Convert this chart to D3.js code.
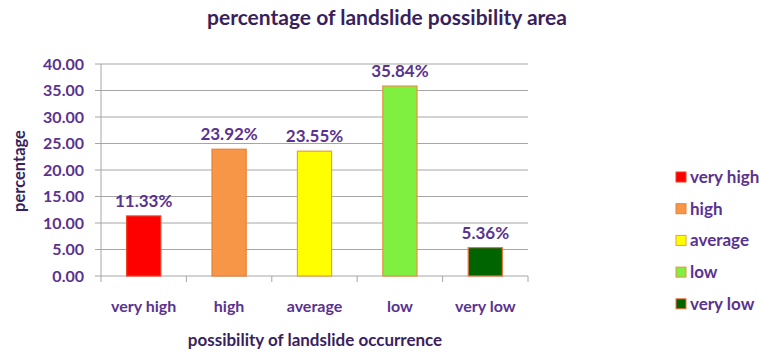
<!DOCTYPE html>
<html>
<head>
<meta charset="utf-8">
<script src="https://cdn.jsdelivr.net/npm/d3@7"></script>
<style>
  html, body { margin: 0; padding: 0; background: #fff; }
  svg { display: block; font-family: Lato, "Open Sans", sans-serif; font-weight: bold; }
</style>
</head>
<body>
<svg id="chart" width="759" height="352"></svg>
<script>
// Landslide possibility classes and share of area (%)
const categories = ["very high", "high", "average", "low", "very low"];
const values = [11.33, 23.92, 23.55, 35.84, 5.36];
const yTicks = [0, 5, 10, 15, 20, 25, 30, 35, 40];
const fills = ["#ff0000", "#f79646", "#ffff00", "#80f040", "#006400"];
const strokes = ["#f04020", "#e8803a", "#e8a040", "#e89040", "#f07040"];

const textColor = "#5a3290";
const titleColor = "#3a1f5e";

const svg = d3.select("#chart");
const m = { left: 101, right: 528, top: 64, bottom: 276 };

const x = d3.scaleBand().domain(categories).range([m.left, m.right]).paddingInner(0).paddingOuter(0);
const y = d3.scaleLinear().domain([0, 40]).range([m.bottom, m.top]);
const barW = x.bandwidth() * 0.4;

// Title
svg.append("text")
  .attr("x", 387).attr("y", 25)
  .attr("text-anchor", "middle")
  .attr("font-size", 21)
  .attr("fill", titleColor)
  .text("percentage of landslide possibility area");

// Horizontal gridlines with left tick stubs
svg.append("g").selectAll("line").data(yTicks).join("line")
  .attr("x1", m.left - 6).attr("x2", m.right)
  .attr("y1", d => y(d)).attr("y2", d => y(d))
  .attr("stroke", "#a6a6a6").attr("stroke-width", 1);

// Y axis labels
svg.append("g").selectAll("text").data(yTicks).join("text")
  .attr("x", 84).attr("y", d => y(d) + 5.5)
  .attr("text-anchor", "end")
  .attr("font-size", 16)
  .attr("fill", textColor)
  .text(d => d.toFixed(2));

// Y axis line
svg.append("line")
  .attr("x1", m.left).attr("x2", m.left)
  .attr("y1", m.top).attr("y2", m.bottom)
  .attr("stroke", "#a6a6a6");

// X axis tick marks at category boundaries
const bounds = categories.map(c => x(c)).concat([m.right]);
svg.append("g").selectAll("line").data(bounds).join("line")
  .attr("x1", d => d).attr("x2", d => d)
  .attr("y1", m.bottom).attr("y2", m.bottom + 6)
  .attr("stroke", "#a6a6a6");

// Bars
svg.append("g").selectAll("rect").data(values).join("rect")
  .attr("x", (d, i) => x(categories[i]) + (x.bandwidth() - barW) / 2)
  .attr("y", d => y(d))
  .attr("width", barW)
  .attr("height", d => y(0) - y(d))
  .attr("fill", (d, i) => fills[i])
  .attr("stroke", (d, i) => strokes[i])
  .attr("stroke-width", 1.2);

// Value labels
svg.append("g").selectAll("text").data(values).join("text")
  .attr("x", (d, i) => x(categories[i]) + x.bandwidth() / 2)
  .attr("y", d => y(d) - 9)
  .attr("text-anchor", "middle")
  .attr("font-size", 17)
  .attr("fill", textColor)
  .text(d => d.toFixed(2) + "%");

// Category labels
svg.append("g").selectAll("text").data(categories).join("text")
  .attr("x", d => x(d) + x.bandwidth() / 2)
  .attr("y", 312)
  .attr("text-anchor", "middle")
  .attr("font-size", 16)
  .attr("fill", textColor)
  .text(d => d);

// Axis titles
svg.append("text")
  .attr("x", 315).attr("y", 346)
  .attr("text-anchor", "middle")
  .attr("font-size", 17)
  .attr("fill", titleColor)
  .text("possibility of landslide occurrence");

svg.append("text")
  .attr("transform", "translate(25,171) rotate(-90)")
  .attr("text-anchor", "middle")
  .attr("font-size", 16.5)
  .attr("fill", titleColor)
  .text("percentage");

// Legend
const lg = svg.append("g").selectAll("g").data(categories).join("g")
  .attr("transform", (d, i) => `translate(676,${177 + i * 31.7})`);
lg.append("rect")
  .attr("x", 0).attr("y", -5).attr("width", 10).attr("height", 10)
  .attr("fill", (d, i) => fills[i])
  .attr("stroke", (d, i) => strokes[i]);
lg.append("text")
  .attr("x", 14).attr("y", 6)
  .attr("font-size", 17)
  .attr("fill", textColor)
  .text(d => d);
</script>
</body>
</html>
